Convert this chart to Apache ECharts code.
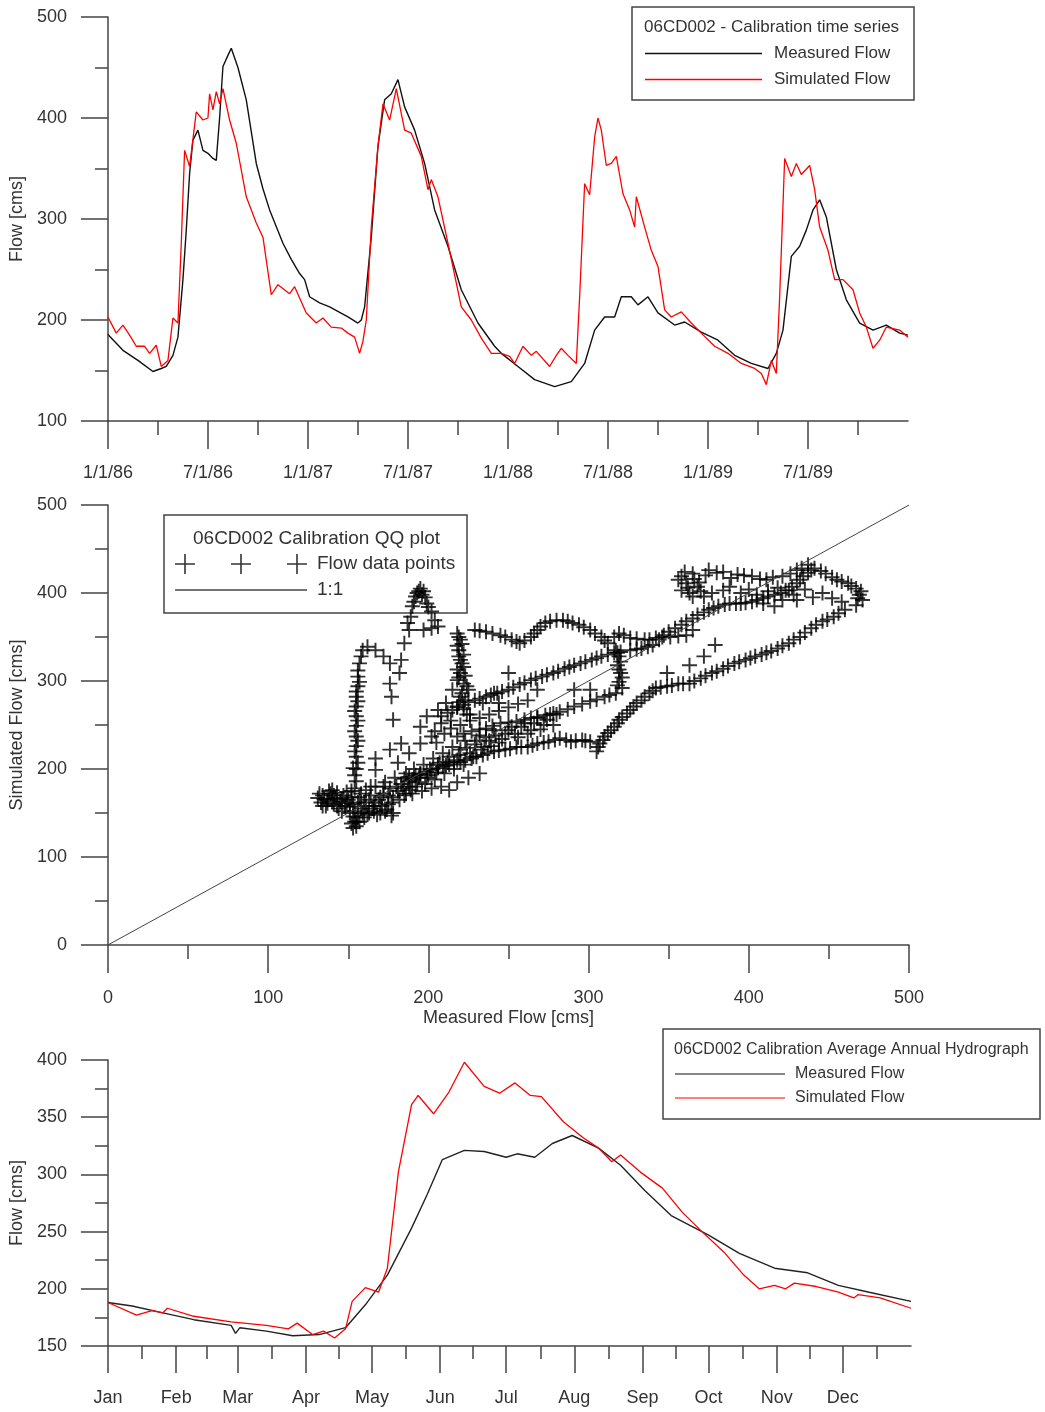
<!DOCTYPE html>
<html>
<head>
<meta charset="utf-8">
<title>06CD002 Calibration</title>
<script src="https://cdn.jsdelivr.net/npm/echarts@6/dist/echarts.min.js"></script>
<style>
  html, body { margin: 0; padding: 0; background: #fff; }
  #chart { width: 1045px; height: 1412px; }
</style>
</head>
<body>
<div id="chart"></div>
<script>
// ---- panel 1: calibration time series (x = months since 1/1/86) ----
var tsTickMonths = [0, 6, 12, 18, 24, 30, 36, 42];
var tsTickLabels = ['1/1/86', '7/1/86', '1/1/87', '7/1/87', '1/1/88', '7/1/88', '1/1/89', '7/1/89'];
var tsMeasured = [
  [0.0,186],[0.1,184],[0.9,170],[1.8,160],[2.7,149],[3.2,152],[3.5,154],[3.9,165],[4.2,183],[4.5,240],
  [4.7,289],[4.9,345],[5.1,378],[5.4,388],[5.7,368],[6.0,365],[6.3,360],[6.5,358],[6.7,400],[6.9,451],
  [7.2,462],[7.4,469],[7.8,450],[8.3,418],[8.9,355],[9.3,330],[9.7,309],[10.5,276],[11.0,260],[11.5,246],
  [11.8,240],[12.1,223],[12.7,217],[13.3,213],[14.4,203],[15.0,197],[15.2,200],[15.4,213],[15.8,282],[16.2,372],
  [16.6,418],[17.0,424],[17.4,438],[17.8,411],[18.4,388],[19.0,355],[19.6,309],[20.4,273],[21.2,230],[22.2,197],
  [23.2,174],[23.6,167],[24.6,154],[25.6,141],[26.8,134],[27.8,139],[28.6,157],[29.2,190],[29.8,203],[30.4,203],
  [30.8,223],[31.4,223],[31.8,215],[32.4,223],[33.0,207],[34.0,195],[34.6,198],[35.6,188],[36.6,180],[37.6,165],
  [38.6,157],[39.6,152],[40.1,167],[40.5,190],[41.0,263],[41.5,273],[41.9,289],[42.3,309],[42.7,319],[43.1,302],
  [43.7,250],[44.3,220],[45.1,197],[45.9,190],[46.7,195],[47.5,187],[48.0,185]
];
var tsSimulated = [
  [0.0,203],[0.5,187],[0.9,195],[1.3,185],[1.7,174],[2.2,174],[2.5,167],[2.9,175],[3.2,154],[3.6,160],
  [3.9,202],[4.2,197],[4.4,276],[4.6,368],[4.9,352],[5.3,406],[5.7,398],[6.0,400],[6.1,424],[6.3,408],
  [6.5,426],[6.7,414],[6.9,429],[7.3,398],[7.7,375],[8.3,322],[8.9,296],[9.3,282],[9.8,225],[10.2,235],
  [10.9,226],[11.2,233],[11.9,207],[12.5,197],[12.9,202],[13.4,193],[14.0,192],[14.4,187],[14.8,183],[15.1,167],
  [15.3,179],[15.5,200],[15.8,292],[16.2,372],[16.5,414],[16.9,398],[17.3,429],[17.8,388],[18.2,385],[18.8,362],
  [19.2,329],[19.4,339],[19.8,322],[20.4,276],[21.2,213],[21.8,200],[22.4,182],[23.0,167],[23.6,167],[24.1,164],
  [24.4,157],[24.9,174],[25.4,165],[25.7,169],[26.5,154],[26.9,165],[27.2,172],[27.6,165],[28.1,157],[28.3,223],
  [28.6,335],[28.9,324],[29.2,381],[29.4,400],[29.6,388],[29.9,353],[30.2,355],[30.5,362],[30.9,325],[31.3,309],
  [31.6,292],[31.7,322],[32.2,292],[32.6,269],[33.0,253],[33.4,210],[33.8,203],[34.4,208],[35.0,197],[35.6,187],
  [36.4,174],[37.2,167],[38.0,157],[38.8,152],[39.2,147],[39.5,136],[39.8,160],[40.1,147],[40.3,223],[40.6,360],
  [41.0,342],[41.3,355],[41.6,344],[42.1,353],[42.4,329],[42.7,292],[43.2,269],[43.6,240],[44.1,240],[44.7,230],
  [45.1,207],[45.5,193],[45.9,172],[46.3,180],[46.7,193],[47.5,190],[48.0,183]
];

// ---- panel 2: QQ plot, [measured, simulated] ----
var qqPoints = [
  // low flow cluster
  [131,167],[133,162],[134,170],[136,158],[137,165],[139,172],[140,176],[141,160],[142,167],[144,155],
  [145,163],[147,170],[148,158],[150,165],[151,150],[152,175],[153,160],[153,146],[154,140],[155,135],
  [156,145],[157,168],[158,155],[160,162],[161,176],[162,148],[163,150],[164,170],[166,158],[166,152],
  [167,180],[169,165],[170,150],[172,172],[173,185],[174,154],[175,160],[176,178],[177,147],[178,168],
  [179,190],[181,175],[183,183],[185,170],[186,195],[188,180],[190,188],[190,172],[191,200],[193,185],
  [195,194],[196,175],[197,205],[199,190],[201,200],[202,178],[203,212],[205,196],[207,207],[208,180],
  [209,218],[211,204],[213,214],[213,176],[215,225],[218,210],[218,185],[220,222],[223,232],[225,190],
  [226,218],[229,228],[232,238],[232,195],[235,225],[238,232],[241,244],[244,230],[248,240],[252,248],
  [256,236],[260,252],[264,244],[268,258],[272,250],[276,262],
  [132,172],[134,158],[135,166],[137,161],[138,175],[140,163],[141,170],[143,158],[143,173],[146,166],
  [146,152],[149,161],[149,174],[151,157],[152,168],[154,152],[154,178],[156,162],[157,140],[158,172],
  [159,150],[160,145],[161,158],[163,165],[164,180],[165,155],[167,162],[168,148],[170,168],[171,158],
  [172,180],[173,152],[175,170],[177,162],[178,150],[180,180],[182,165],[184,178],[186,172],[187,186],
  [189,176],[192,180],[194,190],[198,183],[200,193],[204,188],[206,205],[210,195],[212,208],[216,200],
  [219,216],[222,205],[224,224],[228,214],[230,232],[233,222],[236,236],[239,226],[242,238],[246,234],
  [250,244],[254,240],[258,248],[262,240],[266,252],[270,245],[274,256],[278,250],[280,262],
  [153,133],[155,140],[152,138],
  // 1989 rise
  [155,186],[155,200],[155,214],[155,226],[155,237],[155,249],[155,260],[155,271],[155,282],[156,294],
  [156,305],[157,320],[159,335],[162,339],[167,335],[172,328],[176,320],
  [154,193],[156,207],[154,220],[156,232],[154,243],[156,255],[154,266],[156,277],[155,288],[157,299],
  [156,312],[158,328],
  // 1988 rise
  [153,201],[167,199],[176,222],[183,229],[178,256],[177,282],[176,297],[182,309],[183,324],[185,343],
  [188,358],[189,373],[190,385],[192,396],[193,400],[195,405],[197,402],[199,388],[202,379],[204,369],
  [206,362],[202,360],[197,358],[187,366],[191,390],[194,402],[196,398],[200,384],[198,395],
  // 1988 recession
  [218,354],[220,347],[219,335],[220,324],[222,316],[220,309],[218,301],[222,297],[225,290],[215,290],
  [220,282],[223,278],[218,271],
  [219,350],[221,342],[218,340],[222,330],[219,328],[221,320],[218,313],[223,306],[219,304],[224,294],
  [221,286],[219,276],[222,268],[224,262],
  // upper horizontal band
  [229,358],[236,356],[245,352],[252,347],[257,343],[264,350],[268,358],[273,366],[280,369],[287,368],
  [294,364],[301,358],[308,350],[312,343],[319,354],[326,349],[335,347],[342,349],[351,350],[361,352],
  [365,358],
  [232,357],[240,354],[248,350],[255,345],[260,346],[266,354],[270,362],[276,368],[284,369],[290,366],
  [297,361],[304,354],[310,346],[316,350],[322,352],[330,348],[338,347],[346,350],[356,351],
  // 1986 peak
  [358,419],[361,411],[358,403],[363,400],[365,422],[368,407],[372,396],[365,396],[377,400],[384,403],
  [388,407],[375,426],[384,424],[393,421],[402,419],[411,415],[421,419],[430,426],[437,432],[441,428],
  [448,422],[455,415],[462,411],[467,405],[469,398],[471,392],[467,386],[425,403],[430,392],[421,392],
  [416,385],[409,388],
  [356,415],[360,424],[362,406],[366,416],[370,402],[369,412],[373,420],[380,423],[389,417],[397,420],
  [407,416],[415,418],[426,422],[433,428],[445,425],[452,418],[458,413],[464,408],[470,402],[468,394],
  [395,400],[400,404],[405,398],[412,402],[418,406],[428,398],[435,404],[440,395],[446,400],[452,394],
  [458,390],
  // 1986 recession
  [460,381],[453,373],[446,368],[439,360],[432,350],[425,343],[418,337],[411,332],[404,328],[398,324],
  [391,320],[384,314],[377,309],[370,303],[363,297],[356,297],[349,294],[342,292],[338,286],[333,278],
  [328,271],[324,263],[319,256],[316,248],[312,241],[309,233],[306,225],[305,220],
  [456,377],[449,370],[442,364],[435,355],[428,347],[421,340],[414,334],[408,330],[401,326],[394,322],
  [387,317],[380,311],[373,306],[366,300],[359,297],[352,295],[345,293],[340,289],[335,282],[330,275],
  [326,267],[321,259],[318,252],[314,244],[310,237],[307,229],
  // lower horizontal band
  [301,231],[296,233],[289,231],[282,235],[275,231],[268,229],[262,225],[255,225],[248,222],[241,220],
  [234,216],[227,212],[220,208],[213,205],[206,201],[199,197],[192,193],[185,189],
  [298,232],[292,232],[286,233],[279,233],[272,230],[265,227],[258,225],[251,223],[244,221],[237,218],
  [230,214],[223,210],[216,207],[209,203],[202,199],[195,195],[188,191],
  // 1989 peak
  [317,335],[319,328],[318,318],[320,309],[319,299],[321,292],
  [318,332],[320,322],[319,313],[321,304],[318,295],
  // 1987 recession
  [208,260],[215,267],[222,273],[229,278],[236,282],[243,286],[250,290],[257,296],[264,301],[271,305],
  [278,309],[285,314],[291,318],[298,322],[305,326],[312,330],[326,335],[333,337],[340,341],[347,352],
  [354,360],[361,368],[368,375],[375,381],[381,385],[388,388],[395,388],[402,390],[409,394],[416,398],
  [423,403],[430,411],[434,419],[439,426],
  [212,264],[218,270],[225,276],[232,280],[239,284],[246,288],[253,293],[260,298],[267,303],[274,307],
  [281,311],[288,316],[295,320],[302,324],[308,328],[316,332],[320,333],[330,336],[337,339],[344,347],
  [350,356],[358,364],[365,371],[372,378],[378,383],[385,387],[392,388],[398,389],[405,392],[412,396],
  [420,400],[427,407],[432,415],[437,423],
  // 1987 rise
  [202,237],[195,229],[188,218],[181,207],[204,243],[208,252],[199,260],[206,267],[211,275],[218,237],
  [227,243],[236,246],[245,252],[255,254],[264,258],[273,261],[282,265],[291,271],[301,277],[310,282],
  [317,286],
  [222,240],[232,245],[240,249],[250,253],[260,256],[268,259],[278,263],[287,268],[296,274],[305,279],
  [313,284],
  [205,230],[210,240],[214,246],[220,250],[226,255],[232,258],[238,262],[244,266],[250,270],[256,274],
  [262,278],[244,275],[226,262],[214,255],
  // scattered
  [250,309],[234,275],[241,286],[268,290],[291,290],[301,290],[349,309],[363,318],[372,328],[379,341],
  [195,248],[167,212]
];
var oneToOne = [[0,0],[500,500]];

// ---- panel 3: average annual hydrograph (x = day of year) ----
var monthStarts = [0, 31, 59, 90, 120, 151, 181, 212, 243, 273, 304, 334];
var monthNames = ['Jan','Feb','Mar','Apr','May','Jun','Jul','Aug','Sep','Oct','Nov','Dec'];
var monthMids = [15.5, 45, 74.5, 105, 135.5, 166, 196.5, 227.5, 258, 288.5, 319, 349.5];
var avgMeasured = [
  [0,188],[11,185],[25,179],[39,173],[56,168],[58,161],[60,166],[72,163],[84,159],[96,160],
  [108,166],[117,186],[127,212],[138,253],[145,282],[152,313],[162,321],[171,320],[181,315],[186,318],
  [194,315],[202,327],[211,334],[223,323],[233,308],[244,286],[256,264],[273,247],[287,231],[303,218],
  [318,214],[332,203],[346,197],[365,189]
];
var avgSimulated = [
  [0,188],[13,177],[20,181],[25,179],[27,183],[39,176],[56,171],[72,168],[82,165],[86,170],
  [93,160],[98,163],[103,157],[108,165],[111,189],[117,201],[123,197],[127,218],[132,302],[138,361],
  [141,369],[148,353],[155,372],[162,398],[171,377],[178,371],[185,380],[192,369],[197,368],[207,346],
  [216,332],[223,323],[229,311],[233,317],[242,302],[252,288],[261,267],[270,250],[280,232],[289,212],
  [296,200],[303,203],[308,200],[312,205],[322,202],[332,197],[339,192],[341,195],[351,192],[365,183]
];

var FONT = 'Liberation Sans, Arial, sans-serif';
var TXT = '#333';
var AX = { color: '#444', width: 1.5 };
var PLUS = 'path://M6.7,0h2v15.4h-2z M0,6.7h15.4v2h-15.4z';
// three crosses for the QQ legend sample
var PLUS3 = 'path://M9.2,0h1.6v20h-1.6z M0,9.2h20v1.6h-20z M65.2,0h1.6v20h-1.6z M56,9.2h20v1.6h-20z M121.2,0h1.6v20h-1.6z M112,9.2h20v1.6h-20z';
// plain line sample for the legends
var LINE = 'path://M0,0h100v1.1h-100z';

function yAxisCfg(grid, min, max, step, name, gap) {
  return {
    type: 'value', gridIndex: grid, min: min, max: max, interval: step,
    name: name, nameLocation: 'middle', nameGap: gap, nameRotate: 90,
    nameTextStyle: { fontSize: 18, color: TXT, fontFamily: FONT },
    axisLine: { show: true, lineStyle: AX },
    axisTick: { show: true, length: 27, lineStyle: AX },
    minorTick: { show: true, splitNumber: 2, length: 13, lineStyle: AX },
    axisLabel: { margin: 41, fontSize: 18, color: TXT, fontFamily: FONT },
    splitLine: { show: false }
  };
}

var chart = echarts.init(document.getElementById('chart'), null, { renderer: 'canvas' });
var option = {
  animation: false,
  backgroundColor: '#fff',
  textStyle: { fontFamily: FONT },
  grid: [
    { left: 105, top: 17, width: 803, height: 404 },
    { left: 106, top: 505, width: 803, height: 440 },
    { left: 107, top: 1060, width: 804, height: 286 }
  ],
  xAxis: [
    {
      type: 'value', gridIndex: 0, min: 0, max: 48, interval: 6,
      axisLine: { show: true, onZero: false, lineStyle: AX },
      axisTick: { show: true, length: 28, customValues: tsTickMonths, lineStyle: AX },
      minorTick: { show: true, splitNumber: 2, length: 14, lineStyle: AX },
      axisLabel: {
        customValues: tsTickMonths, margin: 43, fontSize: 18, color: TXT, fontFamily: FONT,
        formatter: function (v) { return tsTickLabels[tsTickMonths.indexOf(v)] || ''; }
      },
      splitLine: { show: false }
    },
    {
      type: 'value', gridIndex: 1, min: 0, max: 500, interval: 100,
      name: 'Measured Flow [cms]', nameLocation: 'middle', nameGap: 64,
      nameTextStyle: { fontSize: 18, color: TXT, fontFamily: FONT },
      axisLine: { show: true, onZero: false, lineStyle: AX },
      axisTick: { show: true, length: 28, lineStyle: AX },
      minorTick: { show: true, splitNumber: 2, length: 14, lineStyle: AX },
      axisLabel: { margin: 44, fontSize: 18, color: TXT, fontFamily: FONT },
      splitLine: { show: false }
    },
    {
      type: 'value', gridIndex: 2, min: 0, max: 365, position: 'bottom',
      axisLine: { show: true, onZero: false, lineStyle: AX },
      axisTick: { show: true, length: 27, customValues: monthStarts, lineStyle: AX },
      axisLabel: {
        customValues: monthStarts, margin: 43, fontSize: 18, color: TXT, fontFamily: FONT,
        formatter: function (v) { return monthNames[monthStarts.indexOf(v)] || ''; }
      },
      splitLine: { show: false }
    },
    {
      // mid-month minor ticks
      type: 'value', gridIndex: 2, min: 0, max: 365, position: 'bottom', offset: 0,
      axisLine: { show: false, onZero: false },
      axisTick: { show: true, length: 13, customValues: monthMids, lineStyle: AX },
      axisLabel: { show: false },
      splitLine: { show: false }
    }
  ],
  yAxis: [
    yAxisCfg(0, 100, 500, 100, 'Flow [cms]', 79),
    yAxisCfg(1, 0, 500, 100, 'Simulated Flow [cms]', 79),
    yAxisCfg(2, 150, 400, 50, 'Flow [cms]', 81)
  ],
  title: [
    { text: '06CD002 - Calibration time series', left: 644, top: 19, padding: 0,
      textStyle: { fontSize: 17, fontWeight: 'normal', color: TXT, fontFamily: FONT } },
    { text: '06CD002 Calibration QQ plot', left: 193, top: 529, padding: 0,
      textStyle: { fontSize: 19, fontWeight: 'normal', color: TXT, fontFamily: FONT } },
    { text: '06CD002 Calibration Average Annual Hydrograph', left: 674, top: 1042, padding: 0,
      textStyle: { fontSize: 16, fontWeight: 'normal', color: TXT, fontFamily: FONT } }
  ],
  legend: [
    {
      data: [{ name: 'Measured Flow', icon: LINE }, { name: 'Simulated Flow', icon: LINE }],
      orient: 'vertical', left: 645, top: 45,
      padding: 0, itemWidth: 117, itemHeight: 16, itemGap: 9, selectedMode: false,
      textStyle: { fontSize: 17, color: TXT, fontFamily: FONT, padding: [0, 0, 0, 7], lineHeight: 16 }
    },
    {
      data: [{ name: 'Flow data points', icon: PLUS3 }, { name: '1:1', icon: LINE }],
      orient: 'vertical', left: 175, top: 554,
      padding: 0, itemWidth: 132, itemHeight: 20, itemGap: 6, selectedMode: false,
      textStyle: { fontSize: 19, color: TXT, fontFamily: FONT, padding: [0, 0, 0, 5], lineHeight: 20 }
    },
    {
      data: [{ name: 'Measured Flow', icon: LINE }, { name: 'Simulated Flow', icon: LINE }],
      orient: 'vertical', left: 675, top: 1066,
      padding: 0, itemWidth: 110, itemHeight: 16, itemGap: 8, selectedMode: false,
      textStyle: { fontSize: 16, color: TXT, fontFamily: FONT, padding: [0, 0, 0, 5], lineHeight: 16 }
    }
  ],
  graphic: [
    { type: 'rect', shape: { x: 632, y: 7, width: 282, height: 93 }, z: 0,
      style: { fill: 'rgba(0,0,0,0)', stroke: '#444', lineWidth: 1.5 } },
    { type: 'rect', shape: { x: 164, y: 515, width: 303, height: 98 }, z: 0,
      style: { fill: 'rgba(0,0,0,0)', stroke: '#444', lineWidth: 1.5 } },
    { type: 'rect', shape: { x: 663, y: 1029, width: 377, height: 90 }, z: 0,
      style: { fill: 'rgba(0,0,0,0)', stroke: '#444', lineWidth: 1.5 } }
  ],
  series: [
    { name: 'Measured Flow', type: 'line', xAxisIndex: 0, yAxisIndex: 0, data: tsMeasured,
      symbol: 'none', color: '#111', lineStyle: { color: '#111', width: 1.4 } },
    { name: 'Simulated Flow', type: 'line', xAxisIndex: 0, yAxisIndex: 0, data: tsSimulated,
      symbol: 'none', color: '#ff0000', lineStyle: { color: '#ff0000', width: 1.3 } },
    { name: '1:1', type: 'line', xAxisIndex: 1, yAxisIndex: 1, data: oneToOne,
      symbol: 'none', color: '#444', lineStyle: { color: '#444', width: 1 } },
    { name: 'Flow data points', type: 'scatter', xAxisIndex: 1, yAxisIndex: 1, data: qqPoints,
      symbol: PLUS, symbolSize: 15, itemStyle: { color: '#000' } },
    { name: 'Measured Flow', type: 'line', xAxisIndex: 2, yAxisIndex: 2, data: avgMeasured,
      symbol: 'none', color: '#222', lineStyle: { color: '#222', width: 1.4 } },
    { name: 'Simulated Flow', type: 'line', xAxisIndex: 2, yAxisIndex: 2, data: avgSimulated,
      symbol: 'none', color: '#ff0000', lineStyle: { color: '#ff0000', width: 1.3 } }
  ]
};
chart.setOption(option);
</script>
</body>
</html>
